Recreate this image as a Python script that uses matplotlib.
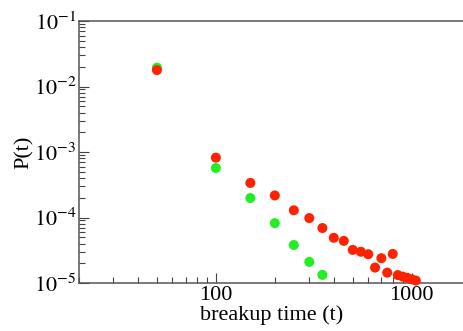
import numpy as np
import matplotlib.pyplot as plt
from matplotlib.ticker import LogLocator, FixedLocator, NullFormatter
plt.rcParams['figure.dpi'] = 100
plt.rcParams['font.family'] = ['Liberation Serif', 'DejaVu Serif']
plt.rcParams['mathtext.fontset'] = 'stix'

# breakup time distributions
t_red = [50, 100, 150, 200, 250, 300, 350, 400, 450, 500, 550,
         600, 650, 700, 750, 800, 850, 900, 950, 1000, 1050]
p_red = [1.78e-2, 8.2e-4, 3.37e-4, 2.17e-4, 1.29e-4, 9.8e-5, 6.9e-5, 4.9e-5,
         4.4e-5, 3.2e-5, 3.0e-5, 2.75e-5, 1.72e-5, 2.39e-5, 1.44e-5,
         2.78e-5, 1.32e-5, 1.25e-5, 1.2e-5, 1.14e-5, 1.09e-5]
t_green = [50, 100, 150, 200, 250, 300, 350]
p_green = [1.94e-2, 5.7e-4, 1.98e-4, 8.2e-5, 3.8e-5, 2.1e-5, 1.33e-5]

xticks = [100, 1000]
xticklabels = ['100', '1000']
yticks = [1e-5, 1e-4, 1e-3, 1e-2, 1e-1]
yticklabels = [r'$10^{%d}$' % e for e in range(-5, 0)]

fig = plt.figure(figsize=(4.64, 3.31))
ax = fig.add_axes([79/464, 1-283/331, 385/464, 262/331])

ax.scatter(t_red, p_red, s=52, color='#ff2200', edgecolors='none', zorder=3, clip_on=False)
ax.scatter(t_green, p_green, s=52, color='#22ee22', edgecolors='none', zorder=2, clip_on=False)

ax.set_xscale('log')
ax.set_yscale('log')
ax.set_xlim(20, 1850)
ax.set_ylim(1e-5, 1e-1)

ax.xaxis.set_major_locator(FixedLocator(xticks))
ax.set_xticklabels(xticklabels)
ax.xaxis.set_minor_locator(LogLocator(base=10, subs=np.arange(2, 10)))
ax.xaxis.set_minor_formatter(NullFormatter())
ax.yaxis.set_major_locator(FixedLocator(yticks))
ax.set_yticklabels(yticklabels)
ax.yaxis.set_minor_locator(LogLocator(base=10, subs=np.arange(2, 10)))
ax.yaxis.set_minor_formatter(NullFormatter())

ax.tick_params(which='both', direction='in', top=False, right=False,
               labelsize=16, color='#444444', width=0.8)
ax.tick_params(which='major', length=7, pad=2)
ax.tick_params(which='minor', length=4)

for side in ['left', 'bottom', 'top']:
    ax.spines[side].set_color('#555555')
    ax.spines[side].set_linewidth(1.1)
ax.spines['right'].set_visible(False)

ax.set_xlabel('breakup time (t)', fontsize=16, labelpad=0)
ax.set_ylabel('P(t)', fontsize=16, labelpad=0)

fig.savefig('out.png', dpi=100)
